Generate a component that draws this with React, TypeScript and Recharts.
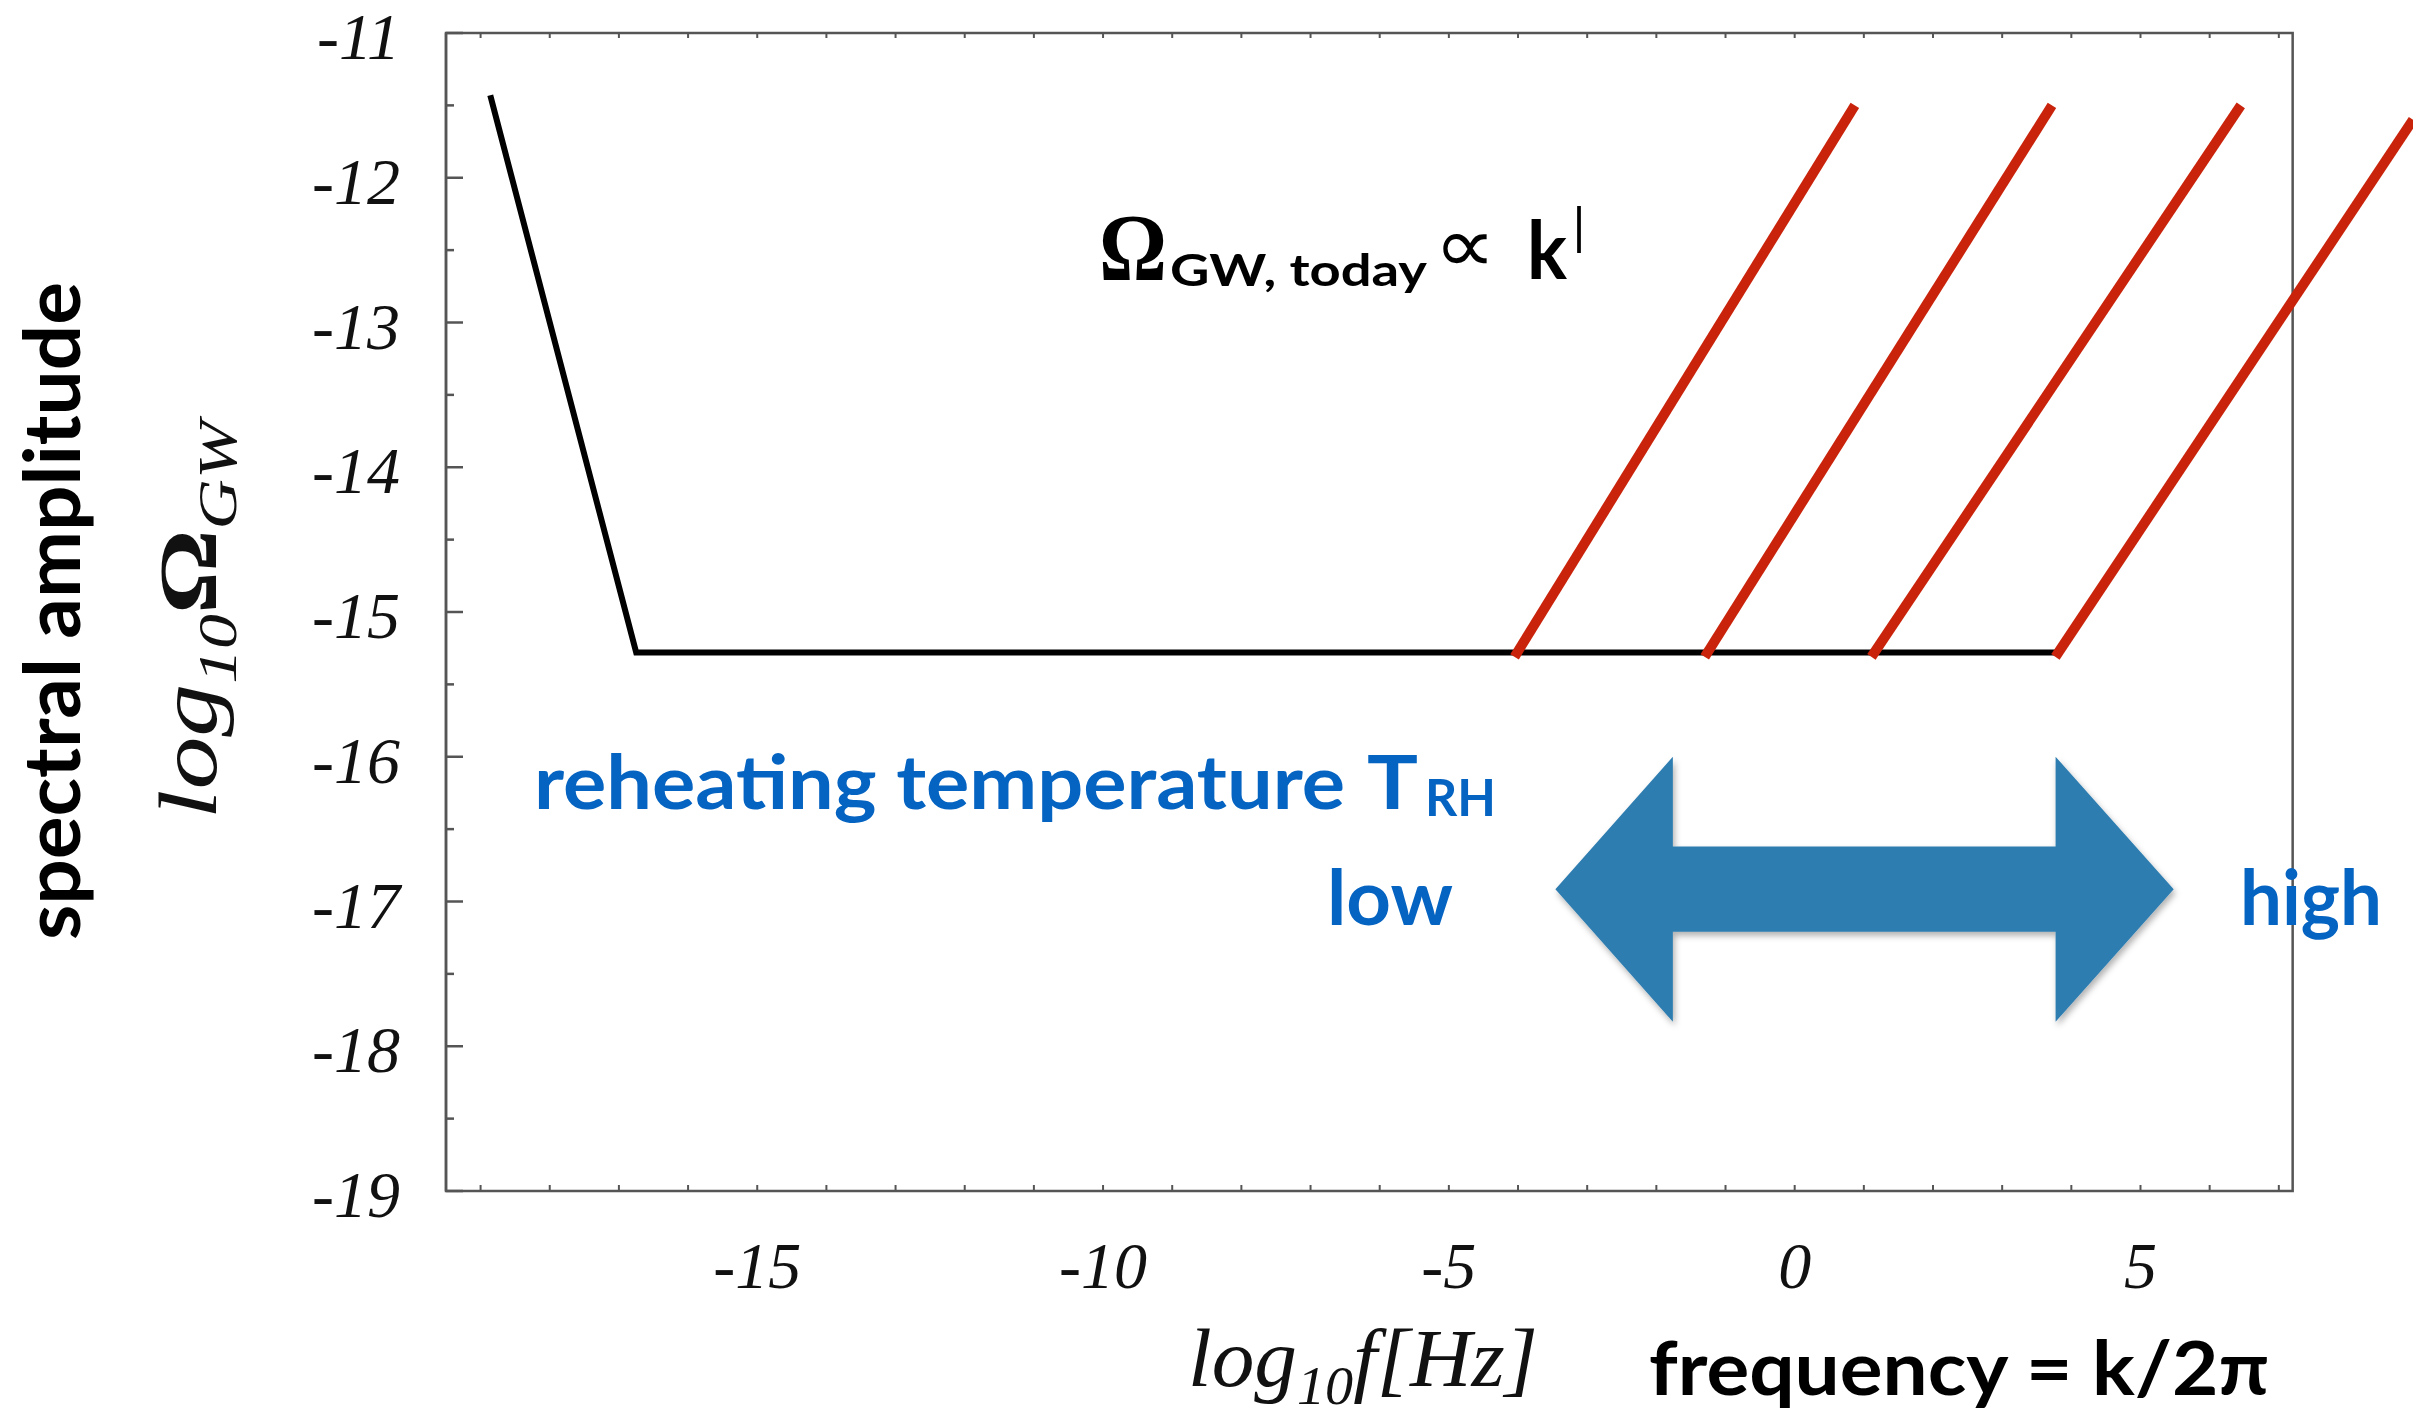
import {
  LineChart,
  Line,
  XAxis,
  YAxis,
  ReferenceArea,
} from "recharts";

// log10 f [Hz] / log10 Omega_GW
const blackX = [-18.86, -16.75, 3.77];
const blackY = [-11.43, -15.28, -15.28];

const redBottomX = [-4.05, -1.3, 1.11, 3.77];
const redBottomY = [-15.31, -15.31, -15.31, -15.31];
const redTopX = [0.87, 3.72, 6.45, 8.94];
const redTopY = [-11.5, -11.5, -11.5, -11.6];

const xDomain = [-19.5, 8.94];
const yDomain = [-19, -11];
const frameX = [-19.5, 7.2];
const frameY = [-19, -11];

const xTicks = [-19, -18, -17, -16, -15, -14, -13, -12, -11, -10, -9, -8, -7, -6, -5, -4, -3, -2, -1, 0, 1, 2, 3, 4, 5, 6, 7];
const xLabels = [-15, -10, -5, 0, 5];
const yTicks = [-19, -18.5, -18, -17.5, -17, -16.5, -16, -15.5, -15, -14.5, -14, -13.5, -13, -12.5, -12, -11.5, -11];

// arrow box (low <-> high reheating temperature)
const arrowX = [-3.46, 5.48];
const arrowY = [-16.0, -17.83];

const blackData = blackX.map((x, i) => ({ x, y: blackY[i] }));
const redData = redBottomX.map((x, i) => [
  { x, y: redBottomY[i] },
  { x: redTopX[i], y: redTopY[i] },
]);

const FRAME = "#555";
const BLUE = "#0563c1";
const serif = "'Liberation Serif', 'Times New Roman', serif";
const sans = "Lato, 'Open Sans', sans-serif";

function YTick(props: any) {
  const { x, y, payload } = props;
  const major = Number.isInteger(payload.value);
  return (
    <g>
      <line x1={x} y1={y} x2={x + (major ? 17 : 8)} y2={y} stroke={FRAME} strokeWidth={2.5} />
      {major && (
        <text x={x - 46} y={y + 26} textAnchor="end" fontFamily={serif} fontStyle="italic" fontSize={66} fill="#111">
          {payload.value}
        </text>
      )}
    </g>
  );
}

function XTickBottom(props: any) {
  const { x, y, payload } = props;
  const show = xLabels.includes(payload.value);
  return (
    <g>
      <line x1={x} y1={y} x2={x} y2={y - 6} stroke={FRAME} strokeWidth={2} />
      {show && (
        <text x={x} y={y + 97} textAnchor="middle" fontFamily={serif} fontStyle="italic" fontSize={66} fill="#111">
          {payload.value}
        </text>
      )}
    </g>
  );
}

function XTickTop(props: any) {
  const { x, y } = props;
  return <line x1={x} y1={y} x2={x} y2={y + 5} stroke={FRAME} strokeWidth={2} />;
}

function DoubleArrow(props: any) {
  const { x, y, width: w, height: h } = props;
  const xl = x + 0.19 * w;
  const xr = x + 0.809 * w;
  const yt = y + 0.339 * h;
  const yb = y + 0.661 * h;
  const pts = [
    [x, y + h / 2],
    [xl, y],
    [xl, yt],
    [xr, yt],
    [xr, y],
    [x + w, y + h / 2],
    [xr, y + h],
    [xr, yb],
    [xl, yb],
    [xl, y + h],
  ]
    .map((p) => p.join(","))
    .join(" ");
  return (
    <g>
      <defs>
        <filter id="arrowShadow" x="-10%" y="-10%" width="120%" height="130%">
          <feDropShadow dx="2" dy="4" stdDeviation="3" floodColor="#000" floodOpacity="0.3" />
        </filter>
      </defs>
      <polygon points={pts} fill="#2e7db0" filter="url(#arrowShadow)" />
    </g>
  );
}

export default function App() {
  return (
    <div style={{ position: "absolute", left: 0, top: 0, width: 2413, height: 1418, background: "#fff", overflow: "hidden" }}>
      <LineChart width={2413} height={1418} margin={{ top: 0, right: 0, bottom: 0, left: 0 }}>
        <XAxis
          dataKey="x"
          type="number"
          domain={xDomain}
          allowDataOverflow
          ticks={xTicks}
          interval={0}
          height={227}
          axisLine={false}
          tickLine={false}
          tickSize={0}
          tickMargin={0}
          tick={(p: any) => <XTickBottom {...p} />}
        />
        <XAxis
          xAxisId="top"
          orientation="top"
          dataKey="x"
          type="number"
          domain={xDomain}
          allowDataOverflow
          ticks={xTicks}
          interval={0}
          height={33}
          axisLine={false}
          tickLine={false}
          tickSize={0}
          tickMargin={0}
          tick={(p: any) => <XTickTop {...p} />}
        />
        <YAxis
          type="number"
          domain={yDomain}
          allowDataOverflow
          ticks={yTicks}
          interval={0}
          width={446}
          axisLine={{ stroke: FRAME, strokeWidth: 2.5 }}
          tickLine={false}
          tickSize={0}
          tickMargin={0}
          tick={(p: any) => <YTick {...p} />}
        />
        <ReferenceArea
          x1={frameX[0]}
          x2={frameX[1]}
          y1={frameY[0]}
          y2={frameY[1]}
          fill="none"
          fillOpacity={0}
          stroke={FRAME}
          strokeWidth={2.5}
        />
        <ReferenceArea
          x1={arrowX[0]}
          x2={arrowX[1]}
          y1={arrowY[0]}
          y2={arrowY[1]}
          shape={(p: any) => <DoubleArrow {...p} />}
        />
        <Line
          data={blackData}
          dataKey="y"
          type="linear"
          stroke="#000"
          strokeWidth={6}
          dot={false}
          isAnimationActive={false}
        />
        {redData.map((d, i) => (
          <Line
            key={i}
            data={d}
            dataKey="y"
            type="linear"
            stroke="#c9240b"
            strokeWidth={10}
            dot={false}
            isAnimationActive={false}
          />
        ))}
      </LineChart>

      <svg
        width={2413}
        height={1418}
        style={{ position: "absolute", left: 0, top: 0, pointerEvents: "none" }}
      >
        {/* Omega_GW,today ∝ k^l */}
        <text x={1099} y={280} fontFamily={serif} fontWeight={700} fontSize={95} textLength={68} lengthAdjust="spacingAndGlyphs">Ω</text>
        <text x={1170} y={286} fontFamily={sans} fontWeight={700} fontSize={44} textLength={257} lengthAdjust="spacingAndGlyphs">GW, today</text>
        <text x={1434} y={272} fontFamily="'DejaVu Sans', sans-serif" fontSize={78} textLength={62} lengthAdjust="spacingAndGlyphs">∝</text>
        <text x={1527} y={279} fontFamily={sans} fontWeight={700} fontSize={80} textLength={40} lengthAdjust="spacingAndGlyphs">k</text>
        <text x={1574} y={253} fontFamily={sans} fontWeight={400} fontSize={64} textLength={10} lengthAdjust="spacingAndGlyphs">l</text>

        {/* reheating temperature */}
        <text x={534} y={809} fill={BLUE} fontFamily={sans} fontWeight={700} fontSize={75} textLength={811} lengthAdjust="spacingAndGlyphs">reheating temperature</text>
        <text x={1367} y={809} fill={BLUE} fontFamily={sans} fontWeight={700} fontSize={75} textLength={51} lengthAdjust="spacingAndGlyphs">T</text>
        <text x={1425} y={816} fill={BLUE} fontFamily={sans} fontWeight={700} fontSize={51} textLength={71} lengthAdjust="spacingAndGlyphs">RH</text>
        <text x={1327} y={925} fill={BLUE} fontFamily={sans} fontWeight={700} fontSize={77} textLength={126} lengthAdjust="spacingAndGlyphs">low</text>
        <text x={2240} y={925} fill={BLUE} fontFamily={sans} fontWeight={700} fontSize={77} textLength={142} lengthAdjust="spacingAndGlyphs">high</text>

        {/* axis titles */}
        <text x={1188} y={1386} fontFamily={serif} fontStyle="italic" fontSize={82} fill="#111" textLength={350} lengthAdjust="spacingAndGlyphs">
          log<tspan fontSize={54} dy={18}>10</tspan><tspan dy={-18}>f[Hz]</tspan>
        </text>
        <text x={1649} y={1395} fontFamily={sans} fontWeight={700} fontSize={74} textLength={620} lengthAdjust="spacingAndGlyphs">
          frequency = k/2π
        </text>
        <text transform="translate(80 611) rotate(-90)" textAnchor="middle" fontFamily={sans} fontWeight={700} fontSize={78} textLength={658} lengthAdjust="spacingAndGlyphs">
          spectral amplitude
        </text>
        <text transform="translate(216 620) rotate(-90)" textAnchor="middle" fontFamily={serif} fontStyle="italic" fontSize={82} fill="#111" textLength={398} lengthAdjust="spacingAndGlyphs">
          log<tspan fontSize={54} dy={20}>10</tspan><tspan dy={-20} fontStyle="normal" fontWeight={700}>Ω</tspan><tspan fontSize={54} dy={20}>GW</tspan>
        </text>
      </svg>
    </div>
  );
}
